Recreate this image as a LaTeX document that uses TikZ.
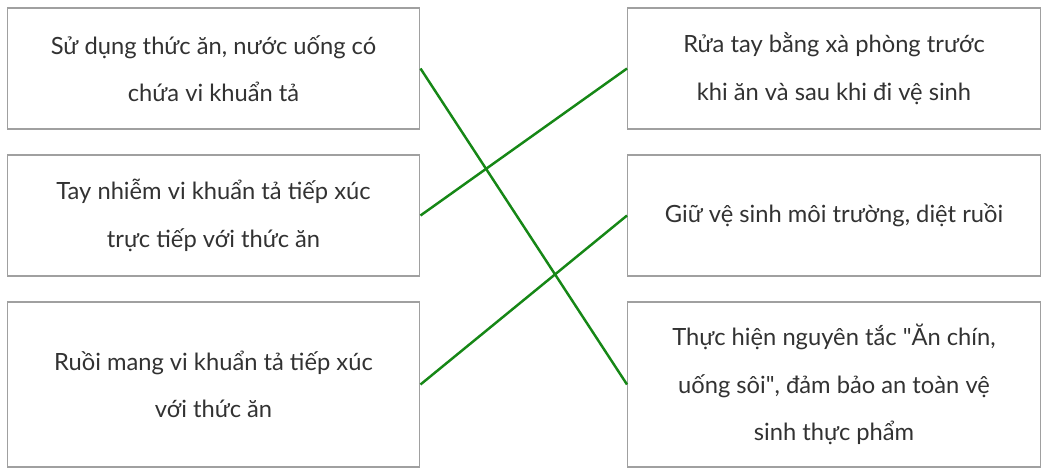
\documentclass[tikz,border=0pt]{standalone}
\usepackage{fontspec}
\setmainfont{Lato}
\newfontfamily\plainq{Lato}
\definecolor{matchgreen}{RGB}{22,135,22}
\definecolor{boxgray}{RGB}{160,160,160}
\definecolor{txtgray}{RGB}{50,50,50}
\begin{document}
\begin{tikzpicture}[x=0.02cm, y=-0.02cm,
    card/.style={draw=boxgray, line width=0.6pt, minimum width=8.26cm, align=center,
                 text=txtgray, inner sep=0pt,
                 font=\fontsize{13.5}{27}\selectfont},
    link/.style={matchgreen, line width=1.4pt}]
    \useasboundingbox (0,0) rectangle (1047,473);

    \node[card, minimum height=2.42cm] (l1) at (213.5,68.5) {Sử dụng thức ăn, nước uống có\\chứa vi khuẩn tả};
    \node[card, minimum height=2.42cm] (l2) at (213.5,215.5) {Tay nhiễm vi khuẩn tả tiếp xúc\\trực tiếp với thức ăn};
    \node[card, minimum height=3.3cm] (l3) at (213.5,384.5) {Ruồi mang vi khuẩn tả tiếp xúc\\với thức ăn};

    \node[card, minimum height=2.42cm] (r1) at (834,68.5) {Rửa tay bằng xà phòng trước\\khi ăn và sau khi đi vệ sinh};
    \node[card, minimum height=2.42cm] (r2) at (834,215.5) {Giữ vệ sinh môi trường, diệt ruồi};
    \node[card, minimum height=3.3cm] (r3) at (834,384.5) {Thực hiện nguyên tắc {\plainq"}Ăn chín,\\uống sôi{\plainq"}, đảm bảo an toàn vệ\\sinh thực phẩm};

    \draw[link] (l1.east) -- (r3.west);
    \draw[link] (l2.east) -- (r1.west);
    \draw[link] (l3.east) -- (r2.west);
\end{tikzpicture}
\end{document}
